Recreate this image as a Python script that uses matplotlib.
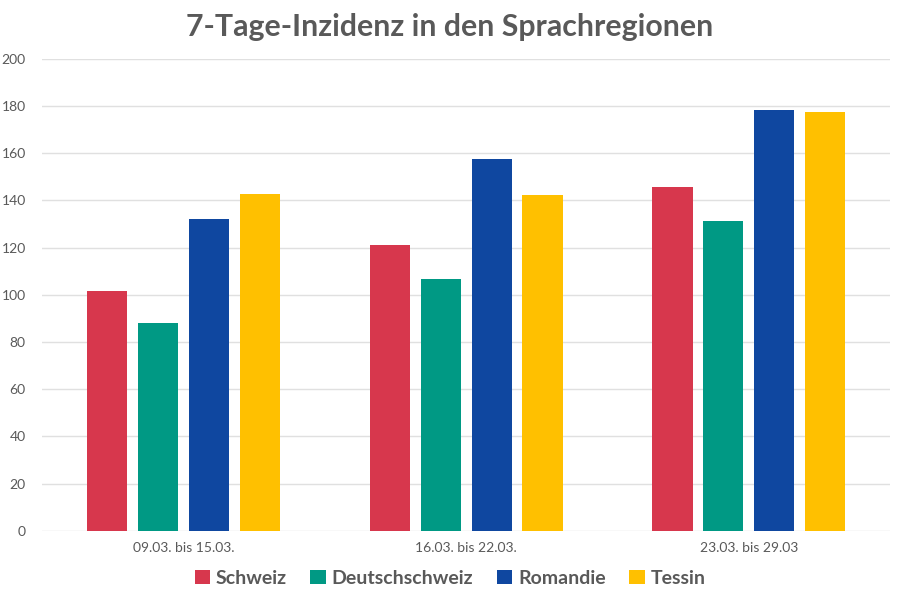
import numpy as np
import matplotlib.pyplot as plt

plt.rcParams['font.family'] = ['Lato', 'DejaVu Sans']

weeks = ["09.03. bis 15.03.", "16.03. bis 22.03.", "23.03. bis 29.03"]
regions = ["Schweiz", "Deutschschweiz", "Romandie", "Tessin"]
schweiz = [101.8, 121.3, 145.6]
deutschschweiz = [88.2, 106.6, 131.3]
romandie = [132.1, 157.5, 178.4]
tessin = [142.7, 142.1, 177.7]
colors = ["#D7374D", "#009984", "#0F47A0", "#FFC000"]

series = [schweiz, deutschschweiz, romandie, tessin]
grey = "#595959"

fig = plt.figure(figsize=(9, 6.01), dpi=100)
ax = fig.add_axes([0.047, 0.117, 0.942, 0.785])

x = np.arange(len(weeks))
step = 0.18
width = 0.142
for i, (vals, name, c) in enumerate(zip(series, regions, colors)):
    ax.bar(x + (i - 1.5) * step, vals, width, color=c, label=name, zorder=3)

ax.set_xlim(-0.5, 2.5)
ax.set_ylim(0, 200)
ax.set_yticks(range(0, 201, 20))
ax.grid(axis='y', color='#E0E0E0', linewidth=1, zorder=0)
for s in ax.spines.values():
    s.set_visible(False)
ax.tick_params(axis='both', length=0, colors=grey, labelsize=10)
ax.tick_params(axis='y', pad=12)
ax.tick_params(axis='x', pad=8)
ax.set_xticks(x)
ax.set_xticklabels(weeks)

fig.suptitle("7-Tage-Inzidenz in den Sprachregionen", x=0.5, y=0.978,
             fontsize=21.8, fontweight='bold', color=grey)

leg = fig.legend(loc='center', bbox_to_anchor=(0.5, 0.038), ncol=4, frameon=False,
                 handlelength=0.8, handleheight=0.8, handletextpad=0.3,
                 columnspacing=1.2, prop={'size': 14, 'weight': 'bold'})
for t in leg.get_texts():
    t.set_color(grey)

fig.savefig("out.png", dpi=100)
